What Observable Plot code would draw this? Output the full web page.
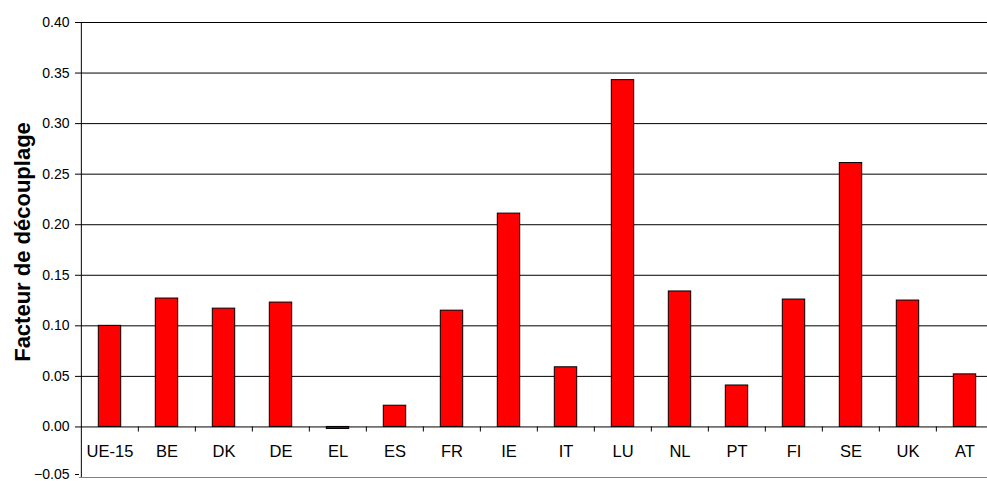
<!DOCTYPE html>
<html><head><meta charset="utf-8">
<script src="https://cdn.jsdelivr.net/npm/d3@7"></script>
<script src="https://cdn.jsdelivr.net/npm/@observablehq/plot@0.6"></script>
<style>
html,body{margin:0;padding:0;background:#fff;overflow:hidden}
</style></head><body><div id="chart"></div>
<script>
const categories = ["UE-15","BE","DK","DE","EL","ES","FR","IE","IT","LU","NL","PT","FI","SE","UK","AT"];
const values = [0.100,0.127,0.117,0.123,-0.002,0.021,0.115,0.211,0.059,0.343,0.134,0.041,0.126,0.261,0.125,0.052];
const yTicks = [-0.05,0,0.05,0.10,0.15,0.20,0.25,0.30,0.35,0.40];
const yLabel = "Facteur de découplage";

const data = categories.map((c, i) => ({country: c, value: values[i]}));
const step = 57.3;
const x0 = 79;

const chart = Plot.plot({
  width: 987, height: 481,
  marginLeft: 79, marginRight: 0, marginTop: 22, marginBottom: 4,
  style: {fontFamily: "'Liberation Sans', Arial, sans-serif", background: "white", overflow: "hidden", color: "#000"},
  x: {type: "band", domain: categories, range: [x0, x0 + step * categories.length], padding: 0, axis: null},
  y: {domain: [-0.05, 0.40], range: [477, 22], axis: null},
  marks: [
    Plot.ruleY(yTicks.filter(t => t > 0), {stroke: "#000", strokeWidth: 1}),
    Plot.ruleY(yTicks.filter(t => t < 0), {stroke: "#808080", strokeWidth: 1}),
    Plot.barY(data, {x: "country", y: "value", fill: "#ff0000", stroke: "#000", strokeWidth: 1, insetLeft: 17.3, insetRight: 17.3}),
    Plot.ruleY([0], {stroke: "#000", strokeWidth: 1}),
    Plot.ruleX(categories.slice(1), {x: d => d, y1: 0, y2: -0.005, dx: -step / 2, stroke: "#000"}),
    Plot.ruleX(categories.slice(0, 1), {x: d => d, dx: -step / 2, stroke: "#000"}),
    Plot.axisY(yTicks.filter(t => t >= 0), {anchor: "left", tickFormat: d3.format(".2f"), tickSize: 4, tickPadding: 6, fontSize: 14, label: null}),
    Plot.axisY(yTicks.filter(t => t < 0), {anchor: "left", tickFormat: d3.format(".2f"), tickSize: 4, tickPadding: 6, fontSize: 14, label: null, textAnchor: "end", dy: -3}),
    Plot.text(categories, {x: d => d, y: () => 0, dy: 25, fontSize: 16.5, fill: "#000"}),
    Plot.text([yLabel], {frameAnchor: "left", textAnchor: "middle", rotate: -90, dx: -57, dy: -8, fontSize: 22, fontWeight: "bold", fill: "#000"})
  ]
});
document.getElementById("chart").append(chart);
</script></body></html>
